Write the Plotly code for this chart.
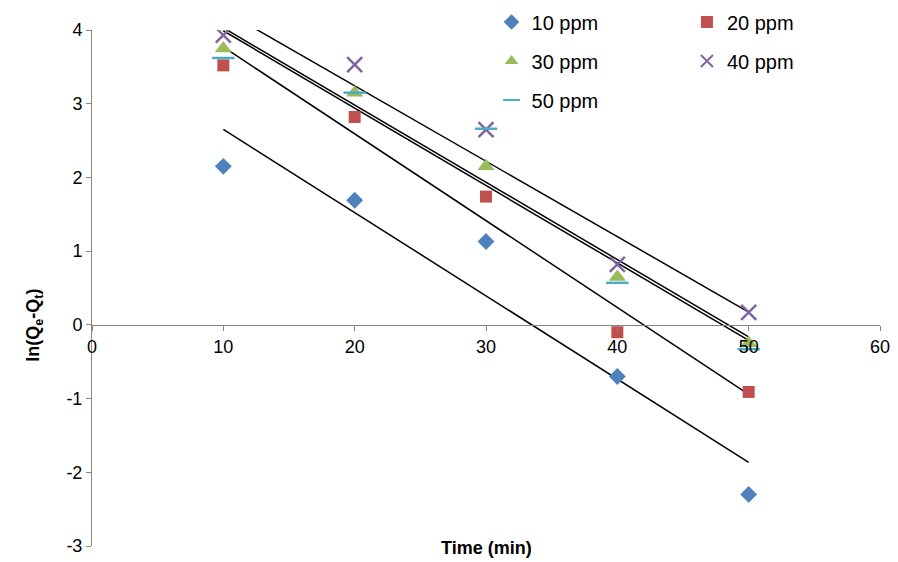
import numpy as np
import plotly.graph_objects as go

time = [10, 20, 30, 40, 50]
series_names = ["10 ppm", "20 ppm", "30 ppm", "40 ppm", "50 ppm"]
y10 = [2.15, 1.69, 1.13, -0.70, -2.30]
y20 = [3.52, 2.82, 1.74, -0.10, -0.91]
y30 = [3.75, 3.15, 2.15, 0.65, -0.25]
y40 = [3.93, 3.53, 2.65, 0.82, 0.17]
y50 = [3.62, 3.15, 2.66, 0.57, -0.33]
series = [y10, y20, y30, y40, y50]
x_ticks = [0, 10, 20, 30, 40, 50, 60]
y_ticks = [-3, -2, -1, 0, 1, 2, 3, 4]

colors = ["#4F81BD", "#C0504D", "#9BBB59", "#8064A2", "#4BACC6"]
symbols = ["diamond", "square", "triangle-up", "x-thin-open", "line-ew-open"]
sizes = [13, 12, 15, 15, 16]
legend_ids = ["legend", "legend2", "legend3", "legend4", "legend5"]
H = 562.0
legend_pos = [(0.507, (H - 14) / H), (0.755, (H - 14) / H), (0.507, (H - 53) / H),
              (0.755, (H - 53) / H), (0.507, (H - 92) / H)]

fig = go.Figure()
for ys in series:
    m, b = np.polyfit(time, ys, 1)
    xs = [time[0], time[-1]]
    fig.add_trace(go.Scatter(x=xs, y=[m * x + b for x in xs], mode="lines",
                             line=dict(color="black", width=1.5), showlegend=False,
                             hoverinfo="skip"))
for name, ys, c, s, sz, lg in zip(series_names, series, colors, symbols, sizes, legend_ids):
    fig.add_trace(go.Scatter(x=time, y=ys, mode="markers", name=name, legend=lg,
                             marker=dict(color=c, symbol=s, size=sz,
                                         line=dict(color=c, width=2.5 if s in ("x-thin-open", "line-ew-open") else 0))))

F = "Liberation Sans"
leg = dict(orientation="v", yanchor="middle", xanchor="left", font=dict(size=20),
           bgcolor="rgba(0,0,0,0)", itemsizing="constant")
legends = {lg: dict(leg, x=p[0], y=p[1]) for lg, p in zip(legend_ids, legend_pos)}
fig.update_layout(
    width=898, height=562, margin=dict(l=84, r=26, t=0, b=0, autoexpand=False),
    plot_bgcolor="white", paper_bgcolor="white",
    font=dict(family=F, size=18, color="black"),
    **legends,
    xaxis=dict(range=[0, 60], tickvals=x_ticks, ticktext=[str(v) for v in x_ticks],
               showgrid=False, zeroline=False,
               showline=True, linecolor="#868686", linewidth=1,
               ticks="outside", ticklen=5, tickcolor="#868686",
               anchor="free", position=(H - 317) / H),
    yaxis=dict(range=[-3, 4], tickvals=y_ticks, ticktext=[str(v) for v in y_ticks],
               domain=[24 / H, 540 / H],
               showgrid=False, zeroline=False,
               showline=True, linecolor="#868686", linewidth=1,
               ticks="outside", ticklen=5, tickcolor="#868686"),
    annotations=[
        dict(text="<b>Time (min)</b>", x=0.5, y=10 / H, xref="paper", yref="paper",
             xanchor="center", yanchor="bottom", showarrow=False, font=dict(size=18)),
        dict(text="<b>ln(Q<sub>e</sub>-Q<sub>t</sub>)</b>", x=-0.091, y=(H - 317) / H, xref="paper",
             yref="paper", textangle=-90, showarrow=False, font=dict(size=18)),
    ],
)
fig.write_html("out.html")
